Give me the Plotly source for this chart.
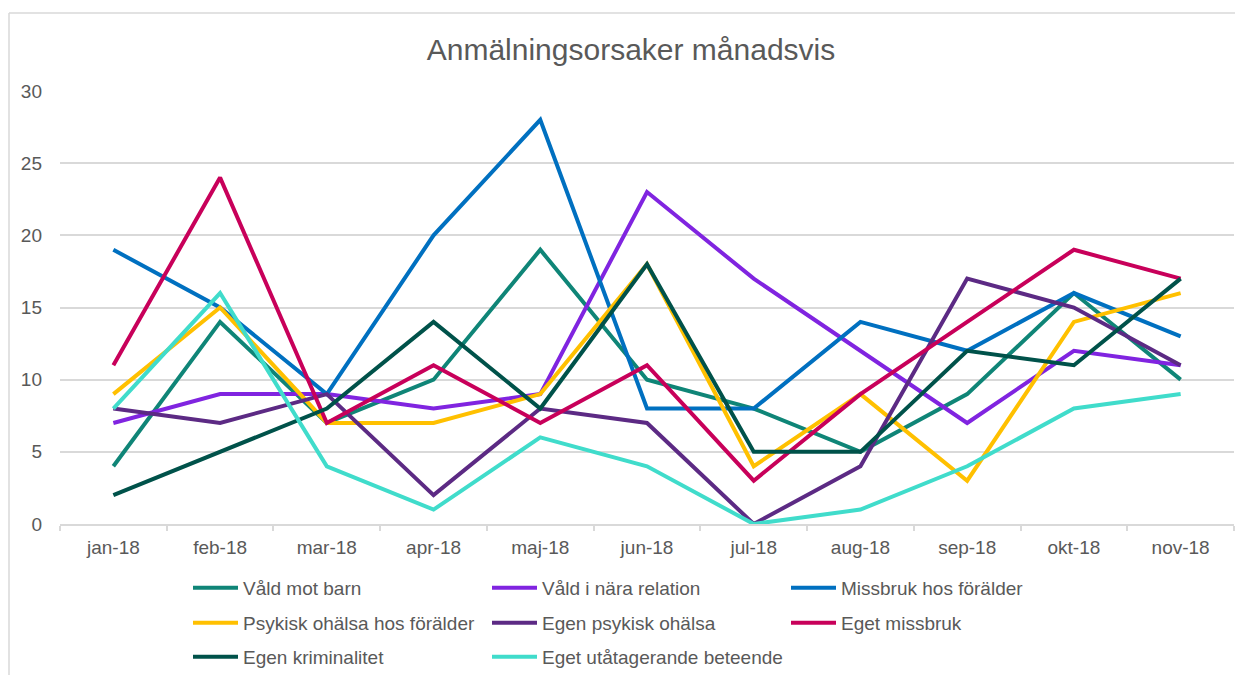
import plotly.graph_objects as go

months = ["jan-18", "feb-18", "mar-18", "apr-18", "maj-18", "jun-18",
          "jul-18", "aug-18", "sep-18", "okt-18", "nov-18"]

vald_mot_barn = [4, 14, 7, 10, 19, 10, 8, 5, 9, 16, 10]
vald_nara_relation = [7, 9, 9, 8, 9, 23, 17, 12, 7, 12, 11]
missbruk_foralder = [19, 15, 9, 20, 28, 8, 8, 14, 12, 16, 13]
psykisk_foralder = [9, 15, 7, 7, 9, 18, 4, 9, 3, 14, 16]
egen_psykisk = [8, 7, 9, 2, 8, 7, 0, 4, 17, 15, 11]
eget_missbruk = [11, 24, 7, 11, 7, 11, 3, 9, 14, 19, 17]
egen_kriminalitet = [2, 5, 8, 14, 8, 18, 5, 5, 12, 11, 17]
eget_utagerande = [8, 16, 4, 1, 6, 4, 0, 1, 4, 8, 9]

series = [
    ("Våld mot barn", vald_mot_barn, "#0F8577", "legend"),
    ("Våld i nära relation", vald_nara_relation, "#8024E0", "legend"),
    ("Missbruk hos förälder", missbruk_foralder, "#0070C0", "legend"),
    ("Psykisk ohälsa hos förälder", psykisk_foralder, "#FFC000", "legend2"),
    ("Egen psykisk ohälsa", egen_psykisk, "#5C2A84", "legend2"),
    ("Eget missbruk", eget_missbruk, "#C8005A", "legend2"),
    ("Egen kriminalitet", egen_kriminalitet, "#00524A", "legend3"),
    ("Eget utåtagerande beteende", eget_utagerande, "#40DCCB", "legend3"),
]

fig = go.Figure()
for name, vals, color, lg in series:
    fig.add_trace(go.Scatter(
        x=months, y=vals, name=name, mode="lines",
        line=dict(color=color, width=4),
        legend=lg,
    ))

font_family = "Liberation Sans, Arial, sans-serif"
txt = "#595959"
grid = "#D9D9D9"

# page body has an 8px margin: figure occupies x 8..1243, y 8..675
W, H = 1235, 667
ML, MR, MT, MB = 52, 9, 83, 151
PH = H - MT - MB  # 433
PW = W - ML - MR  # 1174


def py(ypx):
    # screen y (px) -> plot paper y
    return (524 - ypx) / PH


def px(xpx):
    return (xpx - 60) / PW


legend_common = dict(
    orientation="h", xanchor="left", yanchor="middle",
    font=dict(family=font_family, size=19, color=txt),
    entrywidth=239, entrywidthmode="pixels",
    bgcolor="rgba(0,0,0,0)", traceorder="normal",
    itemwidth=45,
)

fig.update_layout(
    width=W, height=H,
    margin=dict(l=ML, r=MR, t=MT, b=MB, autoexpand=False),
    paper_bgcolor="white", plot_bgcolor="white",
    font=dict(family=font_family, color=txt),
    title=dict(text="Anmälningsorsaker månadsvis", x=px(631), xanchor="center",
               xref="paper", y=1 - (49 - 8) / H, yanchor="middle",
               font=dict(size=30, color=txt, family=font_family)),
    xaxis=dict(
        type="category", range=[-0.5, 10.5],
        showgrid=False, showline=True, linecolor=grid, linewidth=1.5,
        ticks="outside", tickson="boundaries", ticklen=5, tickcolor=grid,
        tickwidth=1.5, ticklabelstandoff=5,
        tickfont=dict(size=19, color=txt), zeroline=False,
    ),
    yaxis=dict(
        range=[0, 30], dtick=5, showgrid=True, gridcolor=grid, gridwidth=1.5,
        zeroline=False, showline=False, ticks="",
        tickfont=dict(size=19, color=txt), ticklabelstandoff=17,
    ),
    legend=dict(x=px(188), y=py(588), **legend_common),
    legend2=dict(x=px(188), y=py(623), **legend_common),
    legend3=dict(x=px(188), y=py(657), **legend_common),
    showlegend=True,
)

# outer chart border (top and left edges visible in frame)
fig.add_shape(type="line", xref="paper", yref="paper",
              x0=px(9), x1=1.02, y0=py(13), y1=py(13),
              line=dict(color=grid, width=1.5), layer="below")
fig.add_shape(type="line", xref="paper", yref="paper",
              x0=px(9), x1=px(9), y0=py(13), y1=-0.4,
              line=dict(color=grid, width=1.5), layer="below")

fig.write_html("out.html")
